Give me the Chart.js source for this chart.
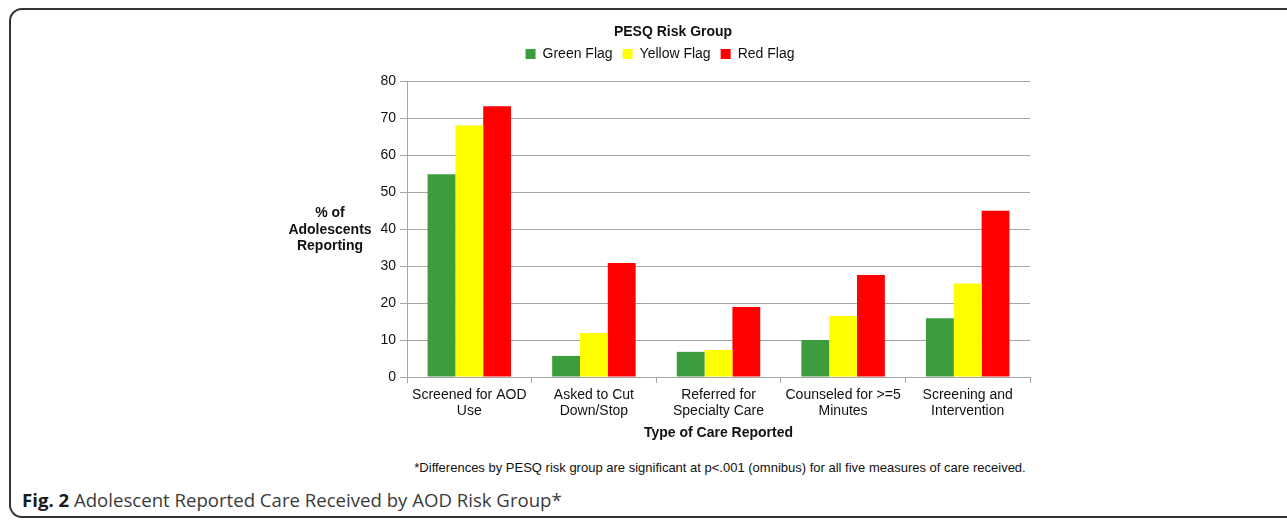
<!DOCTYPE html>
<html><head><meta charset="utf-8">
<script src="https://cdn.jsdelivr.net/npm/chart.js@4/dist/chart.umd.min.js"></script>
<style>
html,body{margin:0;padding:0;background:#fff}
body{width:1287px;height:520px;overflow:hidden;position:relative;font-family:"Liberation Sans",Arial,sans-serif}
#frame{position:absolute;left:9px;top:8px;width:1320px;height:510px;border:2px solid #333;border-radius:13px;box-sizing:border-box}
#c{position:absolute;left:0;top:0}
#ytitle{position:absolute;left:270px;width:120px;top:204px;text-align:center;font:bold 14px/16.5px "Liberation Sans",Arial,sans-serif;color:#111}
#foot{position:absolute;left:320px;width:800px;top:460px;text-align:center;font:13px/16px "Liberation Sans Narrow","Liberation Sans",sans-serif;color:#111}
#cap{position:absolute;left:22px;top:488px;font:18.6px/24px "Open Sans",sans-serif;color:#3a3a3a;white-space:nowrap}
#cap b{color:#1a1a1a}
</style></head><body>
<div id="frame"></div>
<canvas id="c" width="1287" height="450"></canvas>
<div id="ytitle">% of<br>Adolescents<br>Reporting</div>
<div id="foot">*Differences by PESQ risk group are significant at p&lt;.001 (omnibus) for all five measures of care received.</div>
<div id="cap"><b>Fig. 2</b> Adolescent Reported Care Received by AOD Risk Group*</div>
<script>
const categories = [["Screened for AOD","Use"],["Asked to Cut","Down/Stop"],["Referred for","Specialty Care"],["Counseled for >=5","Minutes"],["Screening and","Intervention"]];
const seriesNames = ["Green Flag","Yellow Flag","Red Flag"];
const greenFlag = [54.8, 5.7, 6.8, 10.0, 15.9];
const yellowFlag = [68.0, 11.9, 7.3, 16.5, 25.3];
const redFlag = [73.2, 30.8, 18.9, 27.6, 44.9];
const yTicks = [0,10,20,30,40,50,60,70,80];
const chartTitle = "PESQ Risk Group";
const xTitle = "Type of Care Reported";

const FONT = "'Liberation Sans', Arial, sans-serif";
const GRID = '#a6a6a6';

const titlePlugin = {
  id:'fixedTitle',
  afterDraw(chart){
    const ctx = chart.ctx;
    ctx.save();
    ctx.font = "bold 14px " + FONT;
    ctx.fillStyle = '#111';
    ctx.textAlign = 'center';
    ctx.textBaseline = 'middle';
    ctx.fillText(chartTitle, 673, 32);
    ctx.restore();
  }
};

const legendHeightPlugin = {
  id:'legendHeight',
  beforeLayout(chart){
    const lg = chart.legend;
    if (lg && !lg._wrapped){
      const orig = lg.fit.bind(lg);
      lg.fit = function(){ orig(); this.height = 44; };
      lg._wrapped = true;
    }
  }
};

new Chart(document.getElementById('c'), {
  type:'bar',
  data:{
    labels:categories,
    datasets:[
      {label:seriesNames[0], data:greenFlag, backgroundColor:'#3d9d3d'},
      {label:seriesNames[1], data:yellowFlag, backgroundColor:'#ffff00'},
      {label:seriesNames[2], data:redFlag, backgroundColor:'#ff0000'}
    ]
  },
  options:{
    responsive:false, animation:false,
    datasets:{bar:{categoryPercentage:0.67, barPercentage:1.0, borderWidth:0}},
    layout:{padding:{left:290, right:257, top:37, bottom:0}},
    plugins:{
      title:{display:false},
      tooltip:{enabled:false},
      legend:{
        position:'top',
        labels:{boxWidth:10, boxHeight:10, padding:10, color:'#111', font:{family:FONT, size:14}}
      }
    },
    scales:{
      x:{
        grid:{drawOnChartArea:false, drawTicks:true, tickLength:6, color:GRID, offset:true},
        border:{color:GRID, width:1},
        ticks:{color:'#111', font:{family:FONT, size:14, lineHeight:1.15}, padding:4, maxRotation:0, autoSkip:false},
        title:{display:true, text:xTitle, color:'#111', font:{family:FONT, size:14, weight:'bold'}, padding:{top:2,bottom:8}},
        afterFit(s){ s.height = 73; }
      },
      y:{
        min:0, max:80,
        afterBuildTicks(s){ s.ticks = yTicks.map(v=>({value:v})); },
        ticks:{color:'#111', font:{family:FONT, size:14}, padding:4},
        grid:{color:GRID, tickLength:7, lineWidth:1},
        border:{color:GRID, width:1},
        afterFit(s){ s.width = 117; }
      }
    }
  },
  plugins:[titlePlugin, legendHeightPlugin]
});
</script>
</body></html>
